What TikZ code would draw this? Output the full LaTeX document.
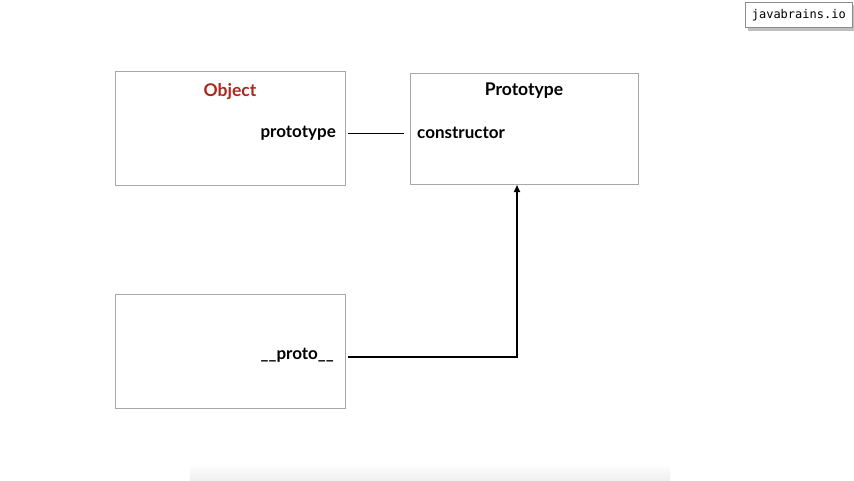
\documentclass[tikz,border=0pt]{standalone}
\usepackage{fontspec}
\setmainfont{Lato}
\newfontfamily\monofont{DejaVu Sans Mono}
\usetikzlibrary{arrows.meta}
\definecolor{boxgray}{HTML}{A8A8A8}
\definecolor{objred}{HTML}{A52A1F}
\tikzset{
  objbox/.style={draw=boxgray, line width=1pt},
  title/.style={font=\fontsize{17.5}{20}\selectfont\bfseries, inner sep=0pt},
  field/.style={font=\fontsize{17}{19}\selectfont\bfseries, inner sep=0pt},
}
\begin{document}
\begin{tikzpicture}[x=1pt,y=-1pt]
\useasboundingbox (0,0) rectangle (854,480);
\fill[white] (0,0) rectangle (854,480);
% bottom faint shadow
\shade[top color=white, bottom color=black!6] (190,464) rectangle (670,480);
% boxes
\node[objbox, minimum width=230pt, minimum height=114pt, anchor=north west, inner sep=0pt] (obj) at (115,71) {};
\node[objbox, minimum width=228pt, minimum height=111pt, anchor=north west, inner sep=0pt] (proto) at (410,73) {};
\node[objbox, minimum width=230pt, minimum height=114pt, anchor=north west, inner sep=0pt] (inst) at (115,294) {};
% texts
\node[title, text=objred] (objt) at (230,91.5) {Object};
\node[title] (protot) at (524,91) {Prototype};
\node[field, anchor=east] (ptype) at (336,133) {prototype};
\node[field, anchor=west] (ctor) at (417,133) {constructor};
\node[field, anchor=east] (pproto) at (334,355) {\_\_proto\_\_};
% connectors
\draw[line width=0.8pt] ([xshift=12pt]ptype.east) -- ([xshift=-13pt]ctor.west);
\coordinate (corner) at (517,357);
\draw[line width=1.6pt, -{Triangle[length=7pt,width=6pt]}] (348,357) -| (proto.south -| corner);
% javabrains label
\fill[black!25] (748,5) rectangle (855,31);
\node[draw=black!45, fill=white, line width=0.6pt, minimum width=107pt, minimum height=25pt, anchor=north west, inner sep=0pt, font=\monofont\fontsize{12}{14}\selectfont] (jb) at (745,2) {javabrains.io};
\end{tikzpicture}
\end{document}
